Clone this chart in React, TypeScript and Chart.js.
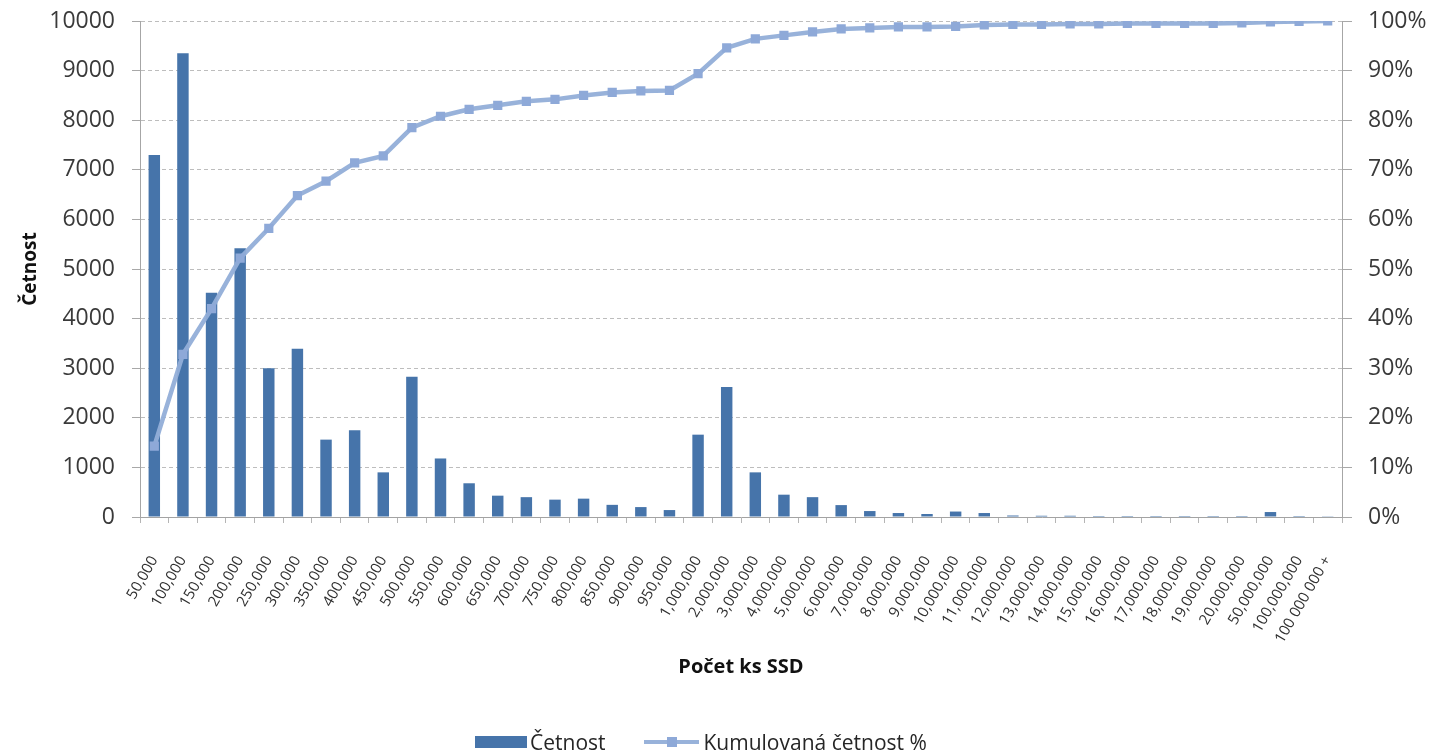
import React, { useEffect, useRef } from 'react';
import { Chart, registerables } from 'chart.js';

Chart.register(...registerables);

const categories = [
  '50,000', '100,000', '150,000', '200,000', '250,000', '300,000', '350,000', '400,000',
  '450,000', '500,000', '550,000', '600,000', '650,000', '700,000', '750,000', '800,000',
  '850,000', '900,000', '950,000', '1,000,000', '2,000,000', '3,000,000', '4,000,000',
  '5,000,000', '6,000,000', '7,000,000', '8,000,000', '9,000,000', '10,000,000',
  '11,000,000', '12,000,000', '13,000,000', '14,000,000', '15,000,000', '16,000,000',
  '17,000,000', '18,000,000', '19,000,000', '20,000,000', '50,000,000', '100,000,000',
  '100 000 000 +',
];

const frequency = [
  7300, 9350, 4520, 5420, 3000, 3390, 1560, 1750, 900, 2830, 1180, 680, 430, 400, 350, 370,
  245, 200, 140, 1660, 2620, 900, 450, 400, 240, 120, 80, 60, 110, 80, 30, 25, 25, 20, 20,
  20, 20, 20, 20, 100, 20, 15,
];

const cumulativePct = [
  14.3, 32.8, 42.0, 52.2, 58.2, 64.8, 67.7, 71.4, 72.8, 78.5, 80.8, 82.2, 83.0, 83.8, 84.2,
  85.0, 85.6, 85.9, 86.0, 89.4, 94.6, 96.4, 97.1, 97.8, 98.4, 98.6, 98.8, 98.8, 98.9, 99.2,
  99.3, 99.3, 99.4, 99.4, 99.5, 99.5, 99.5, 99.5, 99.6, 99.8, 99.9, 100,
];

const leftTicksMax = 10000;
const leftTicksStep = 1000;
const rightTicksMax = 100;
const rightTicksStep = 10;

const seriesNames = ['Četnost', 'Kumulovaná četnost %'];
const xTitle = 'Počet ks SSD';
const yTitle = 'Četnost';

const FONT = "'Open Sans', 'DejaVu Sans', sans-serif";
const BAR_COLOR = '#4674aa';
const LINE_COLOR = 'rgba(146,174,216,0.95)';
const POINT_COLOR = '#8ea9d8';

export default function App() {
  const ref = useRef<HTMLCanvasElement>(null);

  useEffect(() => {
    document.documentElement.style.overflow = 'hidden';
    const chart = new Chart(ref.current!, {
      type: 'bar',
      data: {
        labels: categories,
        datasets: [
          {
            type: 'line',
            label: seriesNames[1],
            data: cumulativePct,
            yAxisID: 'y1',
            order: 0,
            borderColor: LINE_COLOR,
            borderWidth: 4.5,
            pointStyle: 'rect',
            pointRadius: 6.5,
            pointBackgroundColor: POINT_COLOR,
            pointBorderColor: POINT_COLOR,
            pointBorderWidth: 0,
            tension: 0,
          } as any,
          {
            type: 'bar',
            label: seriesNames[0],
            data: frequency,
            yAxisID: 'y',
            order: 1,
            backgroundColor: BAR_COLOR,
            barPercentage: 0.4,
            categoryPercentage: 1,
          },
        ],
      },
      options: {
        animation: false,
        responsive: true,
        maintainAspectRatio: false,
        layout: { padding: { top: 21, right: 0, bottom: 37, left: 0 } },
        plugins: {
          legend: { display: false },
          tooltip: { enabled: false },
        },
        scales: {
          x: {
            offset: true,
            grid: {
              offset: true,
              drawOnChartArea: false,
              drawTicks: true,
              tickLength: 6,
              color: '#b5b5b5',
            },
            border: { color: '#a3a3a3' },
            ticks: {
              autoSkip: false,
              minRotation: 60,
              maxRotation: 60,
              padding: 30,
              color: '#303030',
              font: { family: FONT, size: 15 },
            },
            title: {
              display: true,
              text: xTitle,
              color: '#111',
              font: { family: FONT, size: 20, weight: 'bold' },
              padding: { top: 0, bottom: 38 },
            },
            afterFit: (s: any) => {
              s.height = 200;
            },
          },
          y: {
            position: 'left',
            min: 0,
            max: leftTicksMax,
            ticks: {
              stepSize: leftTicksStep,
              padding: 17,
              color: '#3a3a3a',
              font: { family: FONT, size: 23 },
              callback: (v: any) => String(v),
            },
            grid: {
              color: '#bdbdbd',
              tickLength: 8,
              tickColor: '#a8a8a8',
              tickBorderDash: [],
            } as any,
            border: { color: '#a6a6a6', dash: [4, 3] },
            title: {
              display: true,
              text: yTitle,
              color: '#111',
              font: { family: FONT, size: 19, weight: 'bold' },
              padding: { top: 19, bottom: 0 },
            },
            afterFit: (s: any) => {
              s.width = 140;
              s.paddingTop = 0;
              s.paddingBottom = 0;
            },
          },
          y1: {
            position: 'right',
            min: 0,
            max: rightTicksMax,
            ticks: {
              stepSize: rightTicksStep,
              padding: 16,
              color: '#3a3a3a',
              font: { family: FONT, size: 23 },
              callback: (v: any) => v + '%',
            },
            grid: {
              drawOnChartArea: false,
              tickLength: 10,
              color: '#a8a8a8',
            },
            border: { color: '#a6a6a6' },
            afterFit: (s: any) => {
              s.width = 93;
              s.paddingTop = 0;
              s.paddingBottom = 0;
            },
          },
        },
      },
    });
    return () => chart.destroy();
  }, []);

  return (
    <div style={{ position: 'absolute', left: 0, top: 0, width: 1435, height: 754, overflow: 'hidden', background: '#fff' }}>
      <canvas ref={ref} />
      <div
        style={{
          position: 'absolute',
          left: 475,
          top: 729,
          height: 26,
          display: 'flex',
          alignItems: 'center',
          fontFamily: FONT,
          fontSize: 21,
          color: '#262626',
          whiteSpace: 'nowrap',
        }}
      >
        <span style={{ display: 'inline-block', width: 52, height: 12, background: BAR_COLOR, marginRight: 3 }} />
        <span style={{ marginRight: 38 }}>{seriesNames[0]}</span>
        <span style={{ position: 'relative', display: 'inline-block', width: 55, height: 20, marginRight: 5 }}>
          <span style={{ position: 'absolute', left: 0, top: 8, width: 55, height: 4, background: LINE_COLOR }} />
          <span style={{ position: 'absolute', left: 23, top: 5, width: 10, height: 10, background: POINT_COLOR }} />
        </span>
        <span>{seriesNames[1]}</span>
      </div>
    </div>
  );
}
